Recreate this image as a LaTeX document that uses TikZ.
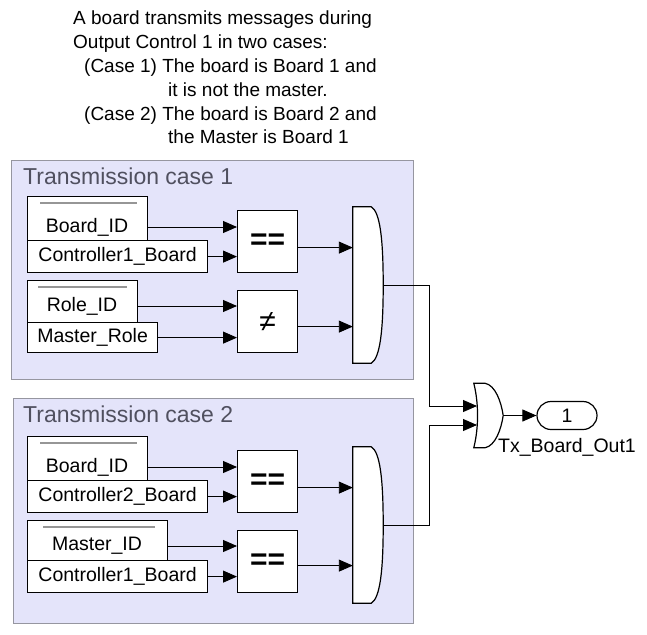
\documentclass[tikz,border=0pt]{standalone}
\usepackage{fontspec}
\setmainfont{Liberation Sans}
\usetikzlibrary{arrows.meta,calc}
\definecolor{areafill}{RGB}{228,228,250}
\definecolor{areadraw}{RGB}{150,150,160}
\definecolor{areatext}{RGB}{80,80,95}
\definecolor{srcgray}{RGB}{150,150,150}
\tikzset{
  area/.style={draw=areadraw, fill=areafill, line width=1pt, inner sep=0, anchor=north west},
  areatitle/.style={font=\fontsize{23}{26}\selectfont, text=areatext, anchor=west, inner sep=0},
  blk/.style={draw, line width=1.2pt, fill=white, inner sep=0, font=\fontsize{19.5}{22}\selectfont},
  boxnw/.style={blk, anchor=north west},
  lbl/.style={inner sep=0, font=\fontsize{19.5}{22}\selectfont},
  arr/.style={line width=0.9pt, -{Triangle[length=14pt,width=12pt]}},
  srcline/.style={draw=srcgray, line width=1.5pt},
  gatebox/.style={draw=none, inner sep=0},
  eqtxt/.style={font=\fontsize{30}{30}\selectfont\bfseries},
  netxt/.style={font=\fontsize{30}{30}\selectfont},
}
\begin{document}
\begin{tikzpicture}[x=1pt,y=-1pt]
\useasboundingbox (0,0) rectangle (647,634);
\fill[white] (0,0) rectangle (647,634);

% description
\node[anchor=north west, align=left, inner sep=0, font=\fontsize{19}{23.8}\selectfont] (desc) at (73,11)
 {A board transmits messages during\\Output Control 1 in two cases:\\\hspace*{11pt}(Case 1) The board is Board 1 and\\\hspace*{95pt}it is not the master.\\\hspace*{11pt}(Case 2) The board is Board 2 and\\\hspace*{95pt}the Master is Board 1};

% areas
\node[area, minimum width=402, minimum height=219] (area1) at (11,160) {};
\node[areatitle] (t1) at (23,176) {Transmission case 1};
\node[area, minimum width=400, minimum height=225] (area2) at (13,398) {};
\node[areatitle] (t2) at (23,414) {Transmission case 2};

% ---- case 1
\node[boxnw, minimum width=120, minimum height=44] (b1) at (27,196) {};
\draw[srcline] ([xshift=13,yshift=-7]b1.north west) -- ([xshift=-11,yshift=-7]b1.north east);
\node[lbl] (b1t) at (87,227) {Board\_ID};
\node[boxnw, minimum width=180, minimum height=32] (c1) at (27,240) {Controller1\_Board};
\node[boxnw, minimum width=60, minimum height=62] (eq1) at (237,210) {};
\node[eqtxt] (eq1t) at (eq1) {==};

\node[boxnw, minimum width=110, minimum height=42] (r1) at (27,280) {};
\draw[srcline] ([xshift=11,yshift=-7]r1.north west) -- ([xshift=-11,yshift=-7]r1.north east);
\node[lbl] (r1t) at (82,306) {Role\_ID};
\node[boxnw, minimum width=130, minimum height=30] (mr) at (27,322) {Master\_Role};
\node[boxnw, minimum width=60, minimum height=62] (ne1) at (237,290) {};
\node[netxt] (ne1t) at (ne1) {≠};

\node[gatebox, minimum width=30, minimum height=156] (and1) at (368,285) {};
\draw[blk] (and1.north west) -- ([xshift=-12]and1.north east)
  .. controls ([xshift=-3,yshift=-5]and1.north east) and ([yshift=45]and1.east) .. (and1.east)
  .. controls ([yshift=-45]and1.east) and ([xshift=-3,yshift=5]and1.south east) .. ([xshift=-12]and1.south east)
  -- (and1.south west) -- cycle;

\draw[arr] (b1t -| b1.east) -- (b1t -| eq1.west);
\draw[arr] (c1.east) -- (c1.east -| eq1.west);
\draw[arr] (r1t -| r1.east) -- (r1t -| ne1.west);
\draw[arr] (mr.east) -- (mr.east -| ne1.west);
\draw[arr] ([yshift=-6]eq1.east) -- ([yshift=-6]eq1.east -| and1.west);
\draw[arr] ([yshift=-5]ne1.east) -- ([yshift=-5]ne1.east -| and1.west);

% ---- case 2
\node[boxnw, minimum width=120, minimum height=44] (b2) at (27,436) {};
\draw[srcline] ([xshift=13,yshift=-7]b2.north west) -- ([xshift=-11,yshift=-7]b2.north east);
\node[lbl] (b2t) at (87,467) {Board\_ID};
\node[boxnw, minimum width=180, minimum height=32] (c2) at (27,480) {Controller2\_Board};
\node[boxnw, minimum width=60, minimum height=62] (eq2) at (237,450) {};
\node[eqtxt] (eq2t) at (eq2) {==};

\node[boxnw, minimum width=140, minimum height=40] (m2) at (27,520) {};
\draw[srcline] ([xshift=16,yshift=-7]m2.north west) -- ([xshift=-13,yshift=-7]m2.north east);
\node[lbl] (m2t) at (97,546) {Master\_ID};
\node[boxnw, minimum width=180, minimum height=32] (c3) at (27,560) {Controller1\_Board};
\node[boxnw, minimum width=60, minimum height=62] (eq3) at (237,530) {};
\node[eqtxt] (eq3t) at (eq3) {==};

\node[gatebox, minimum width=30, minimum height=156] (and2) at (368,525) {};
\draw[blk] (and2.north west) -- ([xshift=-12]and2.north east)
  .. controls ([xshift=-3,yshift=-5]and2.north east) and ([yshift=45]and2.east) .. (and2.east)
  .. controls ([yshift=-45]and2.east) and ([xshift=-3,yshift=5]and2.south east) .. ([xshift=-12]and2.south east)
  -- (and2.south west) -- cycle;

\draw[arr] (b2t -| b2.east) -- (b2t -| eq2.west);
\draw[arr] (c2.east) -- (c2.east -| eq2.west);
\draw[arr] (m2t -| m2.east) -- (m2t -| eq3.west);
\draw[arr] (c3.east) -- (c3.east -| eq3.west);
\draw[arr] ([yshift=-6]eq2.east) -- ([yshift=-6]eq2.east -| and2.west);
\draw[arr] ([yshift=-4]eq3.east) -- ([yshift=-4]eq3.east -| and2.west);

% ---- OR and outport
\node[gatebox, minimum width=29, minimum height=64] (or1) at (488.5,415.5) {};
\draw[blk] (or1.north west) -- ([xshift=-18]or1.north east)
  .. controls ([xshift=-8,yshift=-2]or1.north east) and ([xshift=-2,yshift=14]or1.east) .. (or1.east)
  .. controls ([xshift=-2,yshift=-14]or1.east) and ([xshift=-8,yshift=2]or1.south east) .. ([xshift=-18]or1.south east)
  -- (or1.south west)
  .. controls ([xshift=5,yshift=20]or1.south west) and ([xshift=5,yshift=-20]or1.north west) .. (or1.north west) -- cycle;
\coordinate (in1) at (477,406);
\coordinate (in2) at (477,425);
\coordinate (bendx) at (429,0);
\draw[arr] (and1.east) -| (bendx |- in1) -- (in1);
\draw[arr] (and2.east) -| (bendx |- in2) -- (in2);

\node[blk, rounded corners=14, minimum width=60, minimum height=28] (out) at (567,415.5) {1};
\draw[arr] (or1.east) -- (out.west);
\node[lbl] (outl) at (567,447) {Tx\_Board\_Out1};
\end{tikzpicture}
\end{document}
